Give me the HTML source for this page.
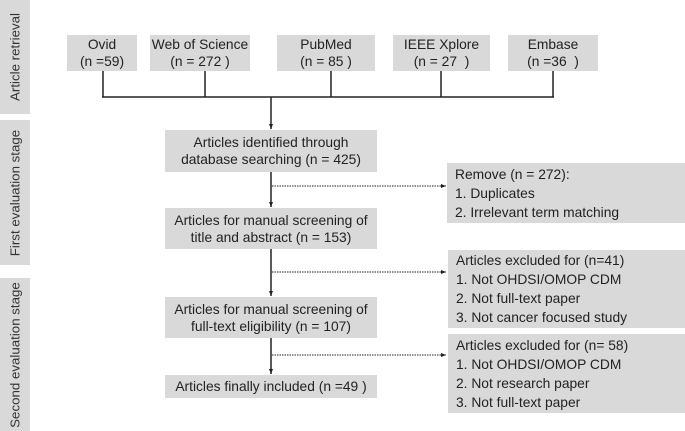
<!DOCTYPE html>
<html><head><style>
body{margin:0;width:685px;height:431px;background:#fff;position:relative;overflow:hidden;font-family:"Liberation Sans",sans-serif;color:#222;}
.b{position:absolute;background:#d9d9d9;font-size:13.8px;line-height:17px;text-align:center;display:flex;flex-direction:column;justify-content:center;white-space:nowrap;}
.r{position:absolute;background:#d9d9d9;font-size:13.8px;line-height:19px;padding-left:8px;box-sizing:border-box;display:flex;flex-direction:column;justify-content:center;}
.s{position:absolute;left:0;width:30px;background:#d9d9d9;}
.s span{position:absolute;left:15px;top:50%;transform:translate(-50%,-50%) rotate(-90deg);white-space:nowrap;font-size:13.3px;color:#333;}
</style></head><body>
<div class="s" style="top:0;height:114px"><span>Article retrieval</span></div>
<div class="s" style="top:120px;height:145px"><span>First evaluation stage</span></div>
<div class="s" style="top:278px;height:153px"><span>Second evaluation stage</span></div>

<div class="b" style="left:67px;top:35px;width:70px;height:36px">Ovid<br>(n =59)</div>
<div class="b" style="left:150px;top:35px;width:100px;height:36px">Web of Science<br>(n = 272 )</div>
<div class="b" style="left:277px;top:35px;width:98px;height:36px">PubMed<br>(n = 85 )</div>
<div class="b" style="left:393px;top:35px;width:97px;height:36px">IEEE Xplore<br>(n = 27&nbsp; )</div>
<div class="b" style="left:508px;top:35px;width:90px;height:36px">Embase<br>(n =36&nbsp; )</div>

<div class="b" style="left:165px;top:130px;width:212px;height:42px">Articles identified through<br>database searching (n = 425)</div>
<div class="b" style="left:165px;top:208px;width:212px;height:41px">Articles for manual screening of<br>title and abstract (n = 153)</div>
<div class="b" style="left:165px;top:297px;width:212px;height:41px">Articles for manual screening of<br>full-text eligibility (n = 107)</div>
<div class="b" style="left:165px;top:375px;width:212px;height:23px">Articles finally included (n =49 )</div>

<div class="r" style="left:447px;top:163px;width:238px;height:60px">Remove (n = 272):<br>1. Duplicates<br>2. Irrelevant term matching</div>
<div class="r" style="left:448px;top:250px;width:237px;height:78px">Articles excluded for (n=41)<br>1. Not OHDSI/OMOP CDM<br>2. Not full-text paper<br>3. Not cancer focused study</div>
<div class="r" style="left:448px;top:334px;width:237px;height:79px">Articles excluded for (n= 58)<br>1. Not OHDSI/OMOP CDM<br>2. Not research paper<br>3. Not full-text paper</div>

<svg width="685" height="431" style="position:absolute;left:0;top:0" fill="none" stroke="#222">
<defs><marker id="a" markerUnits="userSpaceOnUse" markerWidth="6" markerHeight="6" refX="5" refY="3" orient="auto"><path d="M0,1 L5,3 L0,5Z" fill="#222" stroke="none"/></marker></defs>
<g stroke-width="1.5">
<path d="M103,71V97M205,71V97M331,71V97M441,71V97M553,71V97M102,97H554"/>
<path d="M271,97V129" marker-end="url(#a)"/>
<path d="M271,172V207" marker-end="url(#a)"/>
<path d="M271,249V296" marker-end="url(#a)"/>
<path d="M271,338V374" marker-end="url(#a)"/>
</g>
<g stroke-width="1" stroke-dasharray="1.5,1">
<path d="M272,186H446" marker-end="url(#a)"/>
<path d="M272,272H446" marker-end="url(#a)"/>
<path d="M272,355H446" marker-end="url(#a)"/>
</g>
</svg>
</body></html>
